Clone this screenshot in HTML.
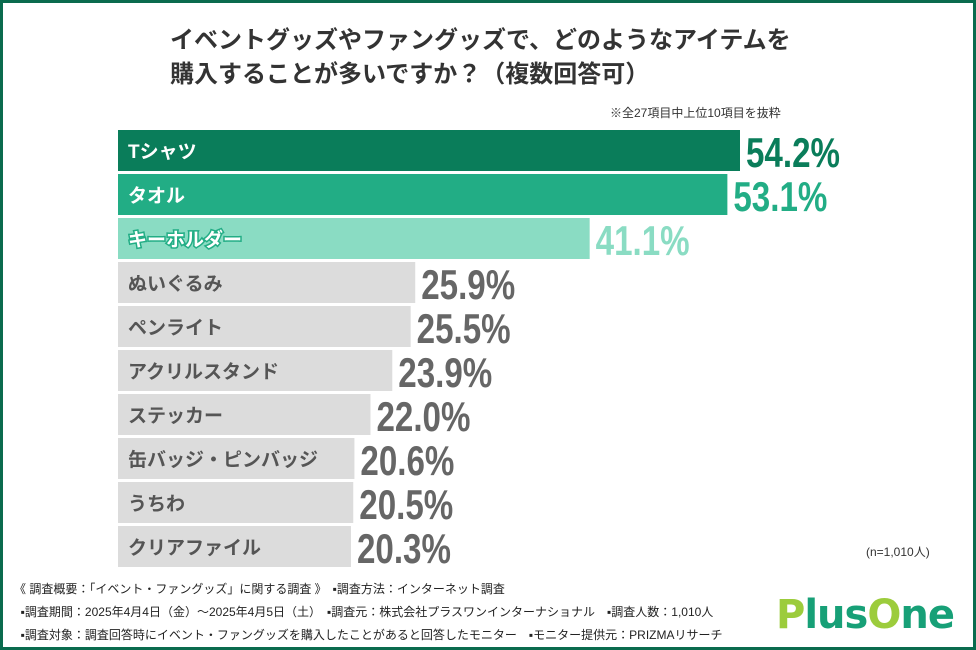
<!DOCTYPE html>
<html><head><meta charset="utf-8"><style>
body{margin:0;width:976px;height:650px;overflow:hidden;background:#fff;font-family:"Liberation Sans","Noto Sans CJK JP",sans-serif}
#frame{position:absolute;left:0;top:0;width:970px;height:644px;border:3px solid #0a6b4e;}
.t{position:absolute;color:#333;font-weight:bold;white-space:nowrap}
</style></head><body>
<div id="frame"></div>
<div class="t" style="left:170px;top:24px;font-size:24px;line-height:34px">イベントグッズやファングッズで、どのようなアイテムを<br>購入することが多いですか？（複数回答可）</div>
<div class="t" style="left:610px;top:104px;font-size:12px;font-weight:normal">※全27項目中上位10項目を抜粋</div>
<svg id="chart" width="976" height="650" style="position:absolute;left:0;top:0"></svg>
<div class="t" style="left:866px;top:543px;font-size:12px;font-weight:normal">(n=1,010人)</div>
<div class="t" style="left:14px;top:578px;font-size:12px;line-height:23px;font-weight:normal;color:#222">《 調査概要：｢イベント・ファングッズ」に関する調査 》　▪調査方法：インターネット調査<br>&nbsp;&nbsp;▪調査期間：2025年4月4日（金）～2025年4月5日（土）　▪調査元：株式会社プラスワンインターナショナル　▪調査人数：1,010人<br>&nbsp;&nbsp;▪調査対象：調査回答時にイベント・ファングッズを購入したことがあると回答したモニター　▪モニター提供元：PRIZMAリサーチ</div>
<div class="t" style="left:776px;top:592px;font-size:40px;font-family:'DejaVu Sans',sans-serif;letter-spacing:-1px"><span style="color:#9ccc3c">P</span><span style="color:#17a077">lus</span><span style="color:#9ccc3c">O</span><span style="color:#17a077">ne</span></div>
<script>
const categories=["Tシャツ","タオル","キーホルダー","ぬいぐるみ","ペンライト","アクリルスタンド","ステッカー","缶バッジ・ピンバッジ","うちわ","クリアファイル"];
const values=[54.2,53.1,41.1,25.9,25.5,23.9,22.0,20.6,20.5,20.3];
const svg=document.getElementById('chart');
const NS='http://www.w3.org/2000/svg';
const x0=118,scale=622/54.2;
const xs=v=>v*scale;
const ys=i=>130+i*44;
const fills=['#0a7d5a','#22ad85','#8adcc3'];
const vcol=['#0a7d5a','#22ad85','#8adcc3'];
categories.forEach((c,i)=>{
 const r=document.createElementNS(NS,'rect');
 
 
 r.setAttribute('x',x0);r.setAttribute('y',ys(i));r.setAttribute('width',xs(values[i]));r.setAttribute('height',41);
 r.setAttribute('fill',fills[i]||'#dcdcdc');svg.appendChild(r);
 const t=document.createElementNS(NS,'text');
 
 
 t.setAttribute('x',x0+10);t.setAttribute('y',ys(i)+28);
 t.setAttribute('font-size','19');t.setAttribute('font-weight','bold');
 t.setAttribute('fill',i<3?'#fff':'#555');
 if(i==2){t.setAttribute('stroke','#22ad85');t.setAttribute('stroke-width','3');t.setAttribute('paint-order','stroke');}
 t.textContent=c;svg.appendChild(t);
 const v=document.createElementNS(NS,'text');
 
 
 v.setAttribute('x',x0+xs(values[i])+6);v.setAttribute('y',ys(i)+37);
 v.setAttribute('font-size','42');v.setAttribute('font-weight','bold');
 v.setAttribute('textLength','94');v.setAttribute('lengthAdjust','spacingAndGlyphs');
 v.setAttribute('fill',vcol[i]||'#666');
 v.textContent=values[i].toFixed(1)+'%';svg.appendChild(v);
});
</script>
</body></html>
